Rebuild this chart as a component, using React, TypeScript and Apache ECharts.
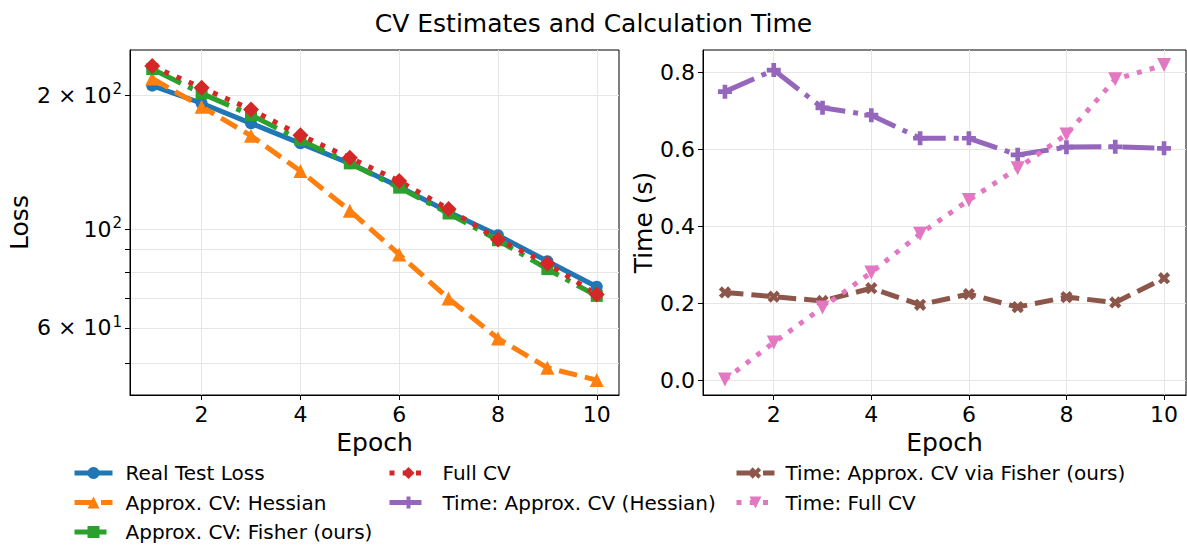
import React, { useEffect, useRef } from 'react';
import * as echarts from 'echarts';

const epochs = [1, 2, 3, 4, 5, 6, 7, 8, 9, 10];
const realTestLoss = [210, 191.7, 172.8, 155.8, 140.5, 124.5, 109.3, 96.9, 84.7, 74.2];
const approxHessian = [218, 188.3, 162.1, 135, 110, 87.7, 69.8, 56.8, 48.8, 45.8];
const approxFisher = [228.8, 201.8, 180.4, 158.5, 140.5, 123.9, 108.4, 94.4, 81.3, 70.8];
const fullCV = [232.3, 207.8, 185.7, 162.5, 144.6, 128.2, 110.9, 94.8, 83.7, 71.3];
const timeHessian = [0.75, 0.806, 0.708, 0.689, 0.629, 0.629, 0.586, 0.606, 0.607, 0.603];
const timeFisher = [0.229, 0.218, 0.207, 0.24, 0.197, 0.225, 0.191, 0.217, 0.203, 0.266];
const timeFull = [0.003, 0.099, 0.19, 0.281, 0.381, 0.469, 0.551, 0.639, 0.782, 0.819];

const xTicks = [2, 4, 6, 8, 10];
const lossTicks = [50, 60, 70, 80, 90, 100, 200];
const lossLabels = [60, 100, 200];
const timeTicks = [0, 0.2, 0.4, 0.6, 0.8];

const FONT = 'DejaVu Sans';
const PLUS = 'path://M2,0H4V2H6V4H4V6H2V4H0V2H2Z';

const DASHED = [18.5, 8];
const DASHDOT = [32, 8, 5, 8];
const DOTTED = [5, 8.25];

function mk(name: string, values: number[], color: string, dash: any, symbol: string, size: number, axis: number, rotate = 0) {
  return {
    type: 'line',
    name,
    xAxisIndex: axis,
    yAxisIndex: axis,
    data: epochs.map((e, i) => [e, values[i]]),
    symbol,
    symbolSize: size,
    symbolRotate: rotate,
    showSymbol: true,
    lineStyle: { color, width: 5, type: dash, cap: 'butt' },
    itemStyle: { color, borderWidth: 0 },
    emphasis: { disabled: true },
  };
}

function xAxisCfg(gridIndex: number) {
  return {
    type: 'value',
    gridIndex,
    min: 0.55,
    max: 10.45,
    name: 'Epoch',
    nameLocation: 'middle',
    nameGap: 32,
    nameTextStyle: { fontSize: 25, fontFamily: FONT, color: '#000' },
    axisLine: { show: true, onZero: false, lineStyle: { color: '#000', width: 1 } },
    axisTick: { show: true, length: 5, lineStyle: { color: '#000' }, customValues: xTicks },
    axisLabel: { fontSize: 22, fontFamily: FONT, color: '#000', margin: 8, customValues: xTicks },
    splitLine: { show: true, lineStyle: { color: '#e6e6e6', width: 1 } },
  };
}

export default function App() {
  const ref = useRef<HTMLDivElement>(null);
  useEffect(() => {
    document.body.style.margin = '0';
    const chart = echarts.init(ref.current!, null, { renderer: 'svg' });
    const legendText = (pad: number) => ({
      fontSize: 20,
      lineHeight: 20,
      fontFamily: FONT,
      color: '#000',
      padding: [0, 0, 0, pad],
    });
    const legendBase = {
      orient: 'vertical',
      itemWidth: 38,
      itemHeight: 15,
      itemGap: 9.5,
      top: 463,
      height: 80,
      padding: 0,
      lineStyle: { width: 5 },
      selectedMode: false,
    };
    chart.setOption({
      animation: false,
      backgroundColor: '#fff',
      title: {
        text: 'CV Estimates and Calculation Time',
        left: 'center',
        top: 6,
        textStyle: { fontSize: 25, fontWeight: 'normal', fontFamily: FONT, color: '#000' },
      },
      legend: [
        { ...legendBase, left: 72, textStyle: legendText(8), data: ['Real Test Loss', 'Approx. CV: Hessian', 'Approx. CV: Fisher (ours)'] },
        { ...legendBase, left: 387, textStyle: legendText(10), data: ['Full CV', 'Time: Approx. CV (Hessian)'] },
        { ...legendBase, left: 734, textStyle: legendText(6), data: ['Time: Approx. CV via Fisher (ours)', 'Time: Full CV'] },
      ],
      grid: [
        { left: 130, top: 50, width: 489, height: 345, show: true, borderColor: '#000', borderWidth: 1, backgroundColor: 'transparent' },
        { left: 703, top: 50, width: 483, height: 345, show: true, borderColor: '#000', borderWidth: 1, backgroundColor: 'transparent' },
      ],
      xAxis: [xAxisCfg(0), xAxisCfg(1)],
      yAxis: [
        {
          type: 'log',
          logBase: 10,
          gridIndex: 0,
          min: 42.4,
          max: 252.5,
          name: 'Loss',
          nameLocation: 'middle',
          nameGap: 98,
          nameTextStyle: { fontSize: 25, fontFamily: FONT, color: '#000' },
          axisLine: { show: true, lineStyle: { color: '#000', width: 1 } },
          axisTick: { show: true, length: 5, lineStyle: { color: '#000' }, customValues: lossTicks },
          axisLabel: {
            customValues: lossLabels,
            margin: 8,
            formatter: (v: number) => {
              const e = Math.floor(Math.log10(v) + 1e-9);
              const m = Math.round(v / Math.pow(10, e));
              const base = m === 1 ? '10' : `${m} × 10`;
              return `{n|${base}}{s|${e}}`;
            },
            rich: {
              n: { fontSize: 22, fontFamily: FONT, color: '#000' },
              s: { fontSize: 15, fontFamily: FONT, color: '#000', padding: [0, 0, 12, 1] },
            },
          },
          splitLine: { show: true, lineStyle: { color: '#e6e6e6', width: 1 } },
        },
        {
          type: 'value',
          gridIndex: 1,
          min: -0.037,
          max: 0.858,
          name: 'Time (s)',
          nameLocation: 'middle',
          nameGap: 45,
          nameTextStyle: { fontSize: 25, fontFamily: FONT, color: '#000' },
          axisLine: { show: true, lineStyle: { color: '#000', width: 1 } },
          axisTick: { show: true, length: 5, lineStyle: { color: '#000' }, customValues: timeTicks },
          axisLabel: {
            customValues: timeTicks,
            fontSize: 22,
            fontFamily: FONT,
            color: '#000',
            margin: 8,
            formatter: (v: number) => v.toFixed(1),
          },
          splitLine: { show: true, lineStyle: { color: '#e6e6e6', width: 1 } },
        },
      ],
      series: [
        mk('Real Test Loss', realTestLoss, '#1f77b4', 'solid', 'circle', 12, 0),
        mk('Approx. CV: Hessian', approxHessian, '#ff7f0e', DASHED, 'triangle', 14, 0),
        mk('Approx. CV: Fisher (ours)', approxFisher, '#2ca02c', DASHDOT, 'rect', 12, 0),
        mk('Full CV', fullCV, '#d62728', DOTTED, 'diamond', 16, 0),
        mk('Time: Approx. CV (Hessian)', timeHessian, '#9467bd', DASHDOT, PLUS, 14, 1),
        mk('Time: Approx. CV via Fisher (ours)', timeFisher, '#8c564b', DASHED, PLUS, 13, 1, 45),
        mk('Time: Full CV', timeFull, '#e377c2', DOTTED, 'triangle', 14, 1, 180),
      ],
    });
    return () => chart.dispose();
  }, []);
  return <div ref={ref} style={{ width: 1187, height: 545 }} />;
}
